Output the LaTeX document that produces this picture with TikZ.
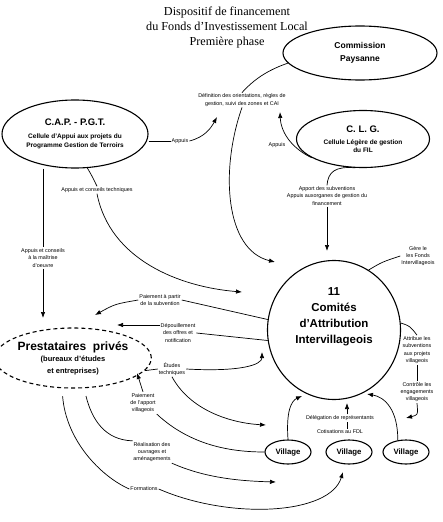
\documentclass[tikz,border=0pt]{standalone}
\usepackage{fontspec}
\setmainfont{Liberation Serif}
\setsansfont{Liberation Sans}
\usetikzlibrary{shapes.geometric,arrows.meta}

\tikzset{
    bubble/.style={ellipse, draw, line width=1.1pt, inner sep=0pt, align=center, font=\sffamily\bfseries},
    lbl/.style={font=\sffamily\fontsize{5.4}{7.4}\selectfont, align=center, inner sep=1pt},
    link/.style={line width=0.7pt},
    arr/.style={link, -{Latex[length=6pt,width=4.5pt]}},
}

\begin{document}
\begin{tikzpicture}[x=1pt,y=-1pt]
        \useasboundingbox (0,0) rectangle (443,522);
        \node[font=\fontsize{12.2}{15}\selectfont, align=center] (titre) at (227,28)
            {Dispositif de financement\\du Fonds d'Investissement Local\\Première phase};

        \node[bubble, minimum width=154pt, minimum height=54pt, font=\sffamily\bfseries\fontsize{8.5}{13}\selectfont] (cp) at (360,53) {Commission\\Paysanne};
        \node[bubble, minimum width=146pt, minimum height=68pt, font=\sffamily\bfseries\fontsize{6.5}{13}\selectfont] (cap) at (75,134)
            {{\fontsize{9.5}{11}\selectfont C.A.P. - P.G.T.}\\Cellule d'Appui aux projets du\\[-4.5pt]Programme Gestion de Terroirs};
        \node[bubble, minimum width=133pt, minimum height=57pt, font=\sffamily\bfseries\fontsize{6.5}{12}\selectfont] (clg) at (363,139)
            {{\fontsize{9.5}{11}\selectfont C. L. G.}\\Cellule Légère de gestion\\[-4pt]du FIL};
        \node[bubble, minimum width=133pt, minimum height=139pt, font=\sffamily\bfseries\fontsize{11.5}{16}\selectfont] (com) at (334,330)
            {11\\Comités\\d'Attribution\\Intervillageois\\[12pt]\mbox{}};
        \node[bubble, dashed, dash pattern=on 4pt off 3pt, minimum width=134pt, minimum height=60pt, font=\sffamily\bfseries\fontsize{7.5}{11.5}\selectfont] (prest) at (73,358)
            {{\fontsize{12}{13}\selectfont Prestataires~~privés}\\(bureaux d'études\\et entreprises)};
        \node[bubble, minimum width=46pt, minimum height=24pt, font=\sffamily\bfseries\fontsize{7.8}{9}\selectfont] (v1) at (288,452) {Village};
        \node[bubble, minimum width=46pt, minimum height=24pt, font=\sffamily\bfseries\fontsize{7.8}{9}\selectfont] (v2) at (349,452) {Village};
        \node[bubble, minimum width=46pt, minimum height=24pt, font=\sffamily\bfseries\fontsize{7.8}{9}\selectfont] (v3) at (406,452) {Village};

        \node[lbl] (def) at (242,100) {Définition des orientations, règles de\\gestion, suivi des zones et CAI};
        \node[lbl] (ap1) at (180,141) {Appuis};
        \node[lbl] (ap2) at (277,145) {Appuis};
        \node[lbl] (apport) at (327,196) {Apport des subventions\\Appuis auxorganes de gestion du\\financement};
        \node[lbl] (act) at (97,190) {Appuis et conseils techniques};
        \node[lbl] (amo) at (43,258) {Appuis et conseils\\à la maîtrise\\d'oeuvre};
        \node[lbl] (gere) at (418,256) {Gère le\\les Fonds\\Intervillageois};
        \node[lbl] (paie) at (160,300) {Paiement à partir\\de la subvention};
        \node[lbl] (depo) at (178,333) {Dépouillement\\des offres et\\notification};
        \node[lbl] (etud) at (172,369) {Études\\techniques};
        \node[lbl] (attr) at (417,350) {Attribue les\\subventions\\aux projets\\villageois};
        \node[lbl] (ctrl) at (417,392) {Contrôle les\\engagements\\villageois};
        \node[lbl] (apv) at (143,403) {Paiement\\de l'apport\\villageois};
        \node[lbl] (dele) at (340,418) {Délégation de représentants};
        \node[lbl] (coti) at (340,432) {Cotisations au FDL};
        \node[lbl] (real) at (152,452) {Réalisation des\\ouvrages et\\aménagements};
        \node[lbl] (form) at (144,489) {Formations};

        \coordinate (tipdef) at (217,117);
        \coordinate (tipclg) at (280,112);
        \coordinate (tipc1) at (275,262);
        \coordinate (tipapp) at (327,251);
        \coordinate (tipamo) at (43,318);
        \coordinate (tipact) at (242,292);
        \coordinate (tippaie) at (95,315);
        \coordinate (tipdepo) at (117,325);
        \coordinate (tipetud1) at (262,352);
        \coordinate (tipetud2) at (266,425);
        \coordinate (tipapv) at (137,373);
        \coordinate (tipreal) at (276,482);
        \coordinate (tipform) at (343,472);
        \coordinate (tipv1) at (302,396);
        \coordinate (tipv2) at (347,403);
        \coordinate (tipv3) at (367,394);
        \coordinate (tipctrl) at (406,418);

        \draw[link] (cap.east |- ap1) -- (ap1);
        \draw[arr] (ap1.east) .. controls (205,137) and (211,128) .. (tipdef);
        \draw[link] (cp.188) .. controls (262,72) and (250,84) .. (def.north);
        \draw[arr] (def.south) .. controls (220,170) and (225,250) .. (tipc1);
        \draw[arr] (clg.200) .. controls (295,150) and (281,135) .. (tipclg);
        \draw[link] (clg.255) .. controls (335,166) and (328,172) .. (apport.north);
        \draw[arr] (apport.south) -- (tipapp);
        \draw[link] (cap.south -| amo) -- (amo);
        \draw[arr] (amo.south) -- (tipamo);
        \draw[link] (cap.290) .. controls (92,176) .. (act.north);
        \draw[arr] (act.south) .. controls (110,260) and (180,287) .. (tipact);
        \draw[link] (com.171) -- (paie.east);
        \draw[arr] (paie.west) .. controls (115,304) .. (tippaie);
        \draw[link] (com.189) -- (depo.east);
        \draw[arr] (depo.west |- tipdepo) -- (tipdepo);
        \draw[link] (etud.west) -- (prest.-10);
        \draw[arr] (etud.east) .. controls (240,372) and (262,365) .. (tipetud1);
        \draw[arr] (etud.south) .. controls (190,410) and (230,423) .. (tipetud2);
        \draw[arr] (apv.north) -- (tipapv);
        \draw[link] (apv.south east) .. controls (190,445) and (230,452) .. (v1.west);
        \draw[link, shorten <=8pt] (prest.290) .. controls (92,420) and (105,440) .. (real.150);
        \draw[arr] (real.south east) .. controls (205,478) and (240,481) .. (tipreal);
        \draw[link, shorten <=8pt] (prest.250) .. controls (66,440) and (100,476) .. (form.west);
        \draw[arr] (form.east) .. controls (230,520) and (330,515) .. (tipform);
        \draw[arr] (v1.north) .. controls (286,412) and (291,401) .. (tipv1);
        \draw[link] (coti.north -| tipv2) -- (dele.south -| tipv2);
        \draw[arr] (dele.north -| tipv2) -- (tipv2);
        \draw[arr] (v3.125) .. controls (398,410) and (385,397) .. (tipv3);
        \draw[link] (com.60) .. controls (382,262) .. (gere.west);
        \draw[link] (com.6) .. controls (410,326) .. (attr.north);
        \draw[link] (attr) -- (ctrl);
        \draw[arr] (ctrl.south) .. controls (418,415) .. (tipctrl);
\end{tikzpicture}
\end{document}
